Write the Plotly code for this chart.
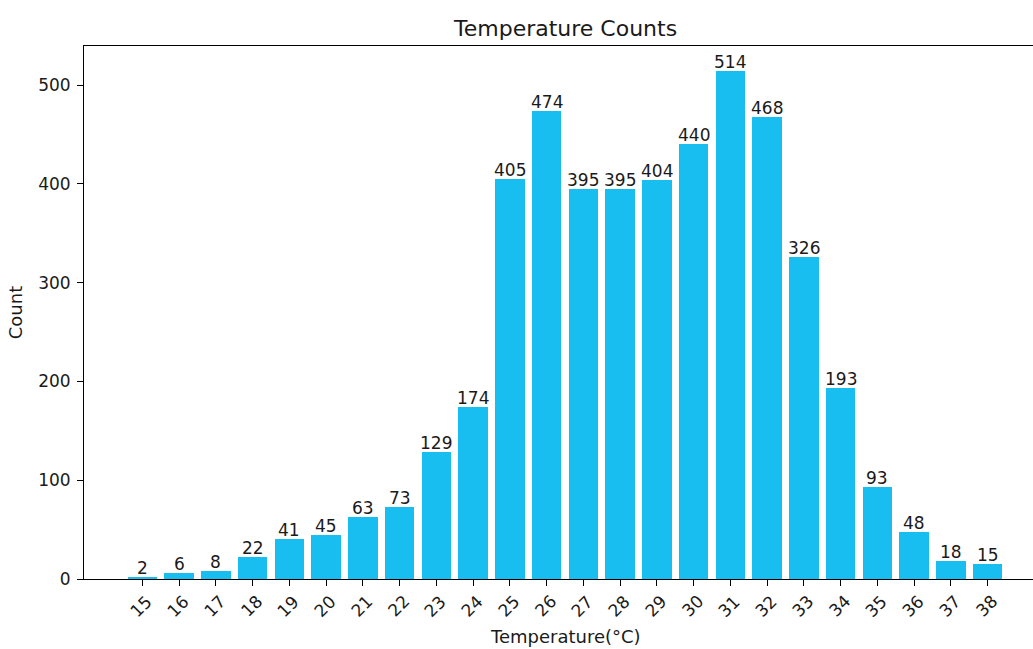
import plotly.graph_objects as go

# Temperature bins (°C) and how many readings fell into each
temperatures = list(range(15, 39))
counts = [2, 6, 8, 22, 41, 45, 63, 73, 129, 174, 405, 474,
          395, 395, 404, 440, 514, 468, 326, 193, 93, 48, 18, 15]
tick_labels = [str(t) for t in temperatures]

BAR_COLOR = "#18BEEF"
FONT = "DejaVu Sans"
TEXT_COLOR = "#1a1a1a"
NUM_SIZE = 17
LABEL_SIZE = 18
TITLE_SIZE = 22
W, H = 1033, 649
M_L, M_R, M_T, M_B = 84, 0, 46, 70

# axis limits in the style of a 0.8-wide bar chart with 5% padding
bar_w = 0.8
lo = temperatures[0] - bar_w / 2
hi = temperatures[-1] + bar_w / 2
pad = 0.05 * (hi - lo)
x_min, x_max_full = lo - pad, hi + pad
# the axes continue a little past the right edge of the page
full_px = 1046 - M_L
x_max = x_min + (x_max_full - x_min) * (W - M_L - M_R) / full_px
y_max = max(counts) * 1.05
x_mid = (x_min + x_max_full) / 2

fig = go.Figure(
    go.Bar(
        x=temperatures,
        y=counts,
        width=bar_w,
        marker=dict(color=BAR_COLOR, line=dict(width=0)),
        hoverinfo="x+y",
    )
)

annotations = []
# value labels above each bar
for t, c in zip(temperatures, counts):
    annotations.append(dict(
        x=t, y=c, xref="x", yref="y", text=str(c), showarrow=False,
        xanchor="center", yanchor="bottom", yshift=-3,
        font=dict(family=FONT, size=NUM_SIZE, color=TEXT_COLOR),
    ))
# rotated category labels under the ticks
for t, lab in zip(temperatures, tick_labels):
    annotations.append(dict(
        x=t, y=0, xref="x", yref="paper", text=lab, showarrow=False,
        xanchor="center", yanchor="middle", textangle=-45, yshift=-27,
        xshift=-1, font=dict(family=FONT, size=NUM_SIZE, color=TEXT_COLOR),
    ))
# chart title and x-axis title centred on the full axes
annotations.append(dict(
    x=x_mid, y=1, xref="x", yref="paper", text="Temperature Counts",
    showarrow=False, xanchor="center", yanchor="bottom", yshift=3,
    font=dict(family=FONT, size=TITLE_SIZE, color=TEXT_COLOR),
))
annotations.append(dict(
    x=x_mid, y=0, xref="x", yref="paper", text="Temperature(°C)",
    showarrow=False, xanchor="center", yanchor="top", yshift=-45,
    font=dict(family=FONT, size=LABEL_SIZE, color=TEXT_COLOR),
))

fig.update_layout(
    width=W, height=H,
    margin=dict(l=M_L, r=M_R, t=M_T, b=M_B, pad=0),
    paper_bgcolor="white", plot_bgcolor="white",
    font=dict(family=FONT, size=NUM_SIZE, color=TEXT_COLOR),
    showlegend=False,
    bargap=0,
    annotations=annotations,
    xaxis=dict(
        range=[x_min, x_max],
        tickmode="array", tickvals=temperatures, ticktext=tick_labels,
        showticklabels=False,
        ticks="outside", ticklen=6, tickwidth=1, tickcolor="#000",
        showline=True, linecolor="#000", linewidth=1, mirror=True,
        showgrid=False, zeroline=False,
    ),
    yaxis=dict(
        range=[0, y_max],
        tickmode="array", tickvals=[0, 100, 200, 300, 400, 500],
        ticks="outside", ticklen=6, tickwidth=1, tickcolor="#000",
        tickfont=dict(family=FONT, size=NUM_SIZE, color=TEXT_COLOR),
        ticklabelstandoff=3,
        showline=True, linecolor="#000", linewidth=1,
        showgrid=False, zeroline=False,
        title=dict(text="Count", font=dict(family=FONT, size=LABEL_SIZE, color=TEXT_COLOR), standoff=10),
    ),
)

fig.write_html("out.html")
